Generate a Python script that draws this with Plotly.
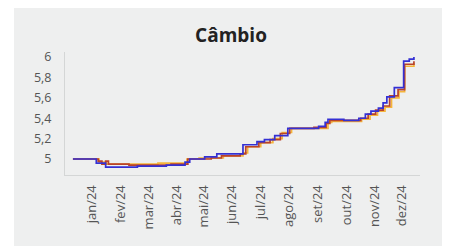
import plotly.graph_objects as go

# ---- data ----
orange_dates = ["2024-01-01", "2024-01-29", "2024-02-06", "2024-03-01", "2024-04-01", "2024-05-02",
                "2024-05-15", "2024-06-10", "2024-07-01", "2024-07-06", "2024-07-20", "2024-08-02",
                "2024-08-12", "2024-08-22", "2024-09-18", "2024-09-30", "2024-10-04", "2024-11-05",
                "2024-11-14", "2024-11-22", "2024-11-30", "2024-12-07", "2024-12-15", "2024-12-21",
                "2024-12-31"]
orange_vals = [5.00, 4.97, 4.95, 4.95, 4.96, 5.00, 5.01, 5.03, 5.06, 5.12, 5.16, 5.20, 5.26, 5.30,
               5.30, 5.36, 5.37, 5.39, 5.43, 5.47, 5.51, 5.60, 5.66, 5.91, 5.94]

red_dates = ["2024-01-01", "2024-01-28", "2024-02-01", "2024-02-05", "2024-02-08", "2024-03-01",
             "2024-04-15", "2024-05-03", "2024-05-28", "2024-06-08", "2024-06-28", "2024-07-04",
             "2024-07-18", "2024-07-30", "2024-08-10", "2024-08-20", "2024-09-15", "2024-09-28",
             "2024-10-02", "2024-10-25", "2024-11-04", "2024-11-12", "2024-11-20", "2024-11-28",
             "2024-12-05", "2024-12-14", "2024-12-21", "2024-12-31"]
red_vals = [5.00, 4.98, 4.95, 4.98, 4.95, 4.94, 4.95, 5.00, 5.01, 5.03, 5.05, 5.12, 5.16, 5.19,
            5.25, 5.30, 5.31, 5.35, 5.38, 5.38, 5.40, 5.44, 5.48, 5.52, 5.62, 5.68, 5.93, 5.96]

blue_dates = ["2024-01-01", "2024-01-26", "2024-02-05", "2024-03-10", "2024-04-10", "2024-04-30",
              "2024-05-05", "2024-05-21", "2024-06-03", "2024-07-01", "2024-07-16", "2024-07-24",
              "2024-08-04", "2024-08-18", "2024-09-20", "2024-09-27", "2024-09-30", "2024-10-17",
              "2024-11-02", "2024-11-09", "2024-11-15", "2024-11-23", "2024-11-28", "2024-12-02",
              "2024-12-10", "2024-12-20", "2024-12-26", "2024-12-31"]
blue_vals = [5.00, 4.96, 4.92, 4.93, 4.94, 4.97, 5.00, 5.02, 5.05, 5.14, 5.17, 5.19, 5.23, 5.30,
             5.32, 5.36, 5.39, 5.38, 5.40, 5.44, 5.47, 5.50, 5.55, 5.61, 5.70, 5.96, 5.98, 6.00]

tick_dates = ["2024-01-21", "2024-02-21", "2024-03-22", "2024-04-21", "2024-05-20", "2024-06-19",
              "2024-07-20", "2024-08-19", "2024-09-19", "2024-10-20", "2024-11-19", "2024-12-18"]
tick_labels = ["jan/24", "fev/24", "mar/24", "abr/24", "mai/24", "jun/24",
               "jul/24", "ago/24", "set/24", "out/24", "nov/24", "dez/24"]
y_ticks = [5, 5.2, 5.4, 5.6, 5.8, 6]

BG = "#eeefef"
FONT = "Open Sans"

fig = go.Figure()
for d, v, c in [(orange_dates, orange_vals, "#f5b53a"),
                (red_dates, red_vals, "#b8432c"),
                (blue_dates, blue_vals, "#3430d4")]:
    fig.add_trace(go.Scatter(x=d, y=v, mode="lines", line=dict(color=c, width=1.7, shape="hv"),
                             showlegend=False, hoverinfo="skip"))

OFF = 8  # page body margin
W, H = 450 - OFF, 247 - OFF
L, R, T, B = 65 - OFF, 30, 52 - OFF, 72
pw, ph = W - L - R, H - T - B

fig.add_shape(type="rect", xref="paper", yref="paper", layer="below",
              x0=(14 - OFF - L) / pw, x1=(446 - OFF - L) / pw,
              y0=(H - B - (246 - OFF)) / ph, y1=(H - B - (4 - OFF)) / ph,
              fillcolor=BG, line=dict(width=0))

fig.update_layout(
    width=W, height=H,
    margin=dict(l=L, r=R, t=T, b=B, pad=0),
    paper_bgcolor="white", plot_bgcolor=BG,
    separators=",.",
    font=dict(family=FONT, color="#555555"),
    title=dict(text="<b>Câmbio</b>", x=(231 - OFF) / W, xanchor="center",
               y=1 - (35 - OFF) / H, yanchor="middle",
               font=dict(family=FONT, size=19, color="#222222")),
    xaxis=dict(type="date", range=["2023-12-23 12:00", "2025-01-06 12:00"],
               tickvals=tick_dates, ticktext=tick_labels, tickangle=-90,
               tickfont=dict(size=13, color="#555555"), showgrid=False, zeroline=False,
               showline=True, linecolor="#d4d6d6", linewidth=1, ticks="outside", ticklen=4,
               tickcolor=BG),
    yaxis=dict(range=[4.843, 6.05], tickvals=y_ticks, showgrid=False, zeroline=False,
               tickfont=dict(size=12.5, color="#555555"),
               showline=True, linecolor="#d4d6d6", linewidth=1, ticks="outside", ticklen=10,
               tickcolor=BG),
)

fig.write_html("out.html")
